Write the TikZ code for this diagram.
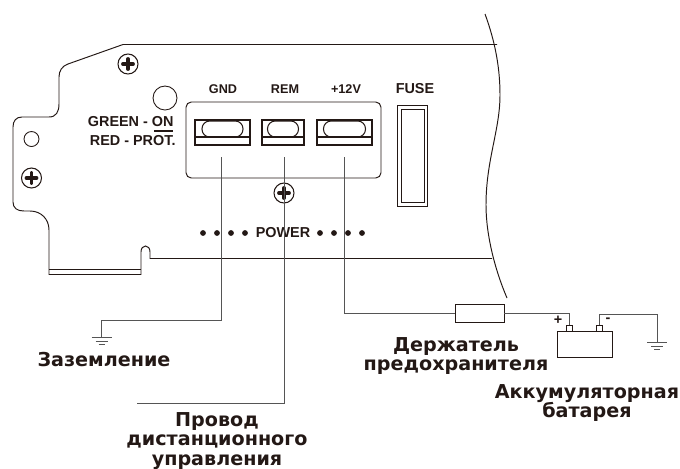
\documentclass[tikz,border=0pt]{standalone}
\usepackage{fontspec}
\setmainfont{Liberation Sans}
\newfontfamily\rusfont{DejaVu Sans}
\usetikzlibrary{arrows}
\usetikzlibrary{positioning}
\definecolor{inkdark}{HTML}{231815}
\definecolor{wiregray}{HTML}{555555}

\begin{document}
\begin{tikzpicture}[x=0.02cm,y=-0.02cm,line width=0.5pt,
    panel/.style={draw=inkdark,line width=0.55pt},
    wire/.style={draw=wiregray,line width=0.55pt},
    holestyle/.style={circle,draw=inkdark,inner sep=0pt},
    screwstyle/.style={circle,draw=inkdark,line width=0.6pt,inner sep=0pt,minimum size=0.4cm},
    slotstyle/.style={rectangle,draw=inkdark,fill=white,inner sep=0pt,line width=0.6pt},
    pinstyle/.style={rectangle,draw=inkdark,inner sep=0pt,minimum size=0.12cm},
    lab/.style={text=inkdark,font=\bfseries\fontsize{8.2}{9}\selectfont,inner sep=0pt},
    smalllab/.style={text=inkdark,font=\bfseries\fontsize{7.2}{9}\selectfont,inner sep=0pt},
    ruslab/.style={text=inkdark,align=center,inner sep=0pt,font=\rusfont\bfseries\fontsize{10.9}{11.3}\selectfont}]
    \useasboundingbox (0,0) rectangle (680,468);
    % housing
    \draw[panel] (485,14) .. controls (496,44) and (500,70) .. (500,95)
	.. controls (500,130) and (486,160) .. (486,205) .. controls (486,235) and (495,270) .. (507,298);
    \draw[panel] (497,44.5) -- (123,44.5) -- (68,64) .. controls (62,66) and (59,71) .. (59,77)
	-- (59,104) .. controls (59,112) and (56,117) .. (49,117) -- (22,117)
	.. controls (16,117) and (13,121) .. (13,127) -- (13,202) .. controls (13,208) and (17,211) .. (24,211)
	-- (30,211) .. controls (41,211) and (49,219) .. (49,230) -- (49,274.5) -- (141,274.5) -- (141,252)
	.. controls (141,244) and (150,244) .. (150,252) -- (150,258.5) -- (492,258.5);
    \draw[panel] (49,269.5) -- (141,269.5);
    % holes and screws
    \node[holestyle,minimum size=0.48cm] (led) at (165,98) {};
    \node[holestyle,minimum size=0.3cm] (hole) at (31.5,139) {};
    \foreach \x/\y/\n in {128/64/a,31.5/178/b,284/193/c} {
	\node[screwstyle] (screw\n) at (\x,\y) {};
	\draw[inkdark,line width=2.2pt,line cap=round] (\x-5,\y) -- (\x+5,\y) (\x,\y-5) -- (\x,\y+5);
    }
    \node[lab,anchor=east] (green) at (174,122) {GREEN - ON};
    \draw[inkdark,line width=1pt] (154,131) -- (173,131);
    \node[lab,anchor=east] (red) at (176,141) {RED - PROT.};
    % terminal block
    \draw[panel,rounded corners=3pt] (186,102) rectangle (381,178);
    \foreach \name/\x/\w/\ov in {gnd/222.5/55/41,rem/283/42/31,pos/344.5/55/42} {
	\node[slotstyle,minimum width=\w*0.02cm,minimum height=0.5cm] (\name) at (\x,132.5) {};
	\draw[inkdark,line width=0.6pt] (\name.west |- 0,137) -- (\name.east |- 0,137);
	\draw[inkdark,line width=0.6pt,rounded corners=4.4pt] (\x-0.5*\ov,121) rectangle (\x+0.5*\ov,137);
    }
    \node[smalllab] (gndlab) at (223,89) {GND};
    \node[smalllab] (remlab) at (285,89) {REM};
    \node[smalllab] (poslab) at (346,89) {+12V};
    \node[lab] (fuselab) at (415,89) {FUSE};
    \draw[panel] (397,105) rectangle (427,206);
    \draw[panel] (401,109) rectangle (424,202);
    % power row
    \node[lab] (power) at (283,233) {POWER};
    \foreach \x in {203,217,231,245,320,334,348,362}
	\fill[inkdark] (\x,233) circle (2.9);
    % wires
    \coordinate (gndtop) at (221.7,157);
    \coordinate (gndbend) at (221.7,320);
    \coordinate (gndend) at (101.7,337);
    \coordinate (remtop) at (284,157);
    \coordinate (remend) at (137,403);
    \coordinate (postop) at (344,157);
    \coordinate (batend) at (657,342);
    \coordinate (minbend) at (599,314);
    \node[rectangle,draw=inkdark,inner sep=0pt,minimum width=0.98cm,minimum height=0.36cm] (holder) at (479.5,313) {};
    \node[rectangle,draw=inkdark,inner sep=0pt,minimum width=1.1cm,minimum height=0.52cm] (battery) at (584.5,344) {};
    \node[pinstyle] (pinplus) at (569,328) {};
    \node[pinstyle] (pinminus) at (599,328) {};
    \draw[wire] (gndtop) -- (gndbend) -| (gndend);
    \draw[wire] (remtop) |- (remend);
    \draw[wire] (postop) |- (holder.west);
    \draw[wire] (holder.east) -| (pinplus.north);
    \draw[wire] (pinminus.north) -- (minbend) -| (batend);
    % grounds
    \foreach \g in {gndend,batend} {
	\draw[wire] ([xshift=-10*0.02cm]\g) -- ([xshift=10*0.02cm]\g);
	\draw[wire] ([xshift=-6*0.02cm,yshift=-4*0.02cm]\g) -- ([xshift=6*0.02cm,yshift=-4*0.02cm]\g);
	\draw[wire] ([xshift=-3*0.02cm,yshift=-7*0.02cm]\g) -- ([xshift=3*0.02cm,yshift=-7*0.02cm]\g);
    }
    \node[lab] (plus) at (558,320) {+};
    \node[lab] (minus) at (608,320) {-};
    % captions
    \node[ruslab] (zazem) at (104,360) {Заземление};
    \node[ruslab] (provod) at (217,441) {Провод\\дистанционного\\управления};
    \node[ruslab] (derzh) at (456,356) {Держатель\\предохранителя};
    \node[ruslab] (akkum) at (587,403) {Аккумуляторная\\батарея};
\end{tikzpicture}
\end{document}
